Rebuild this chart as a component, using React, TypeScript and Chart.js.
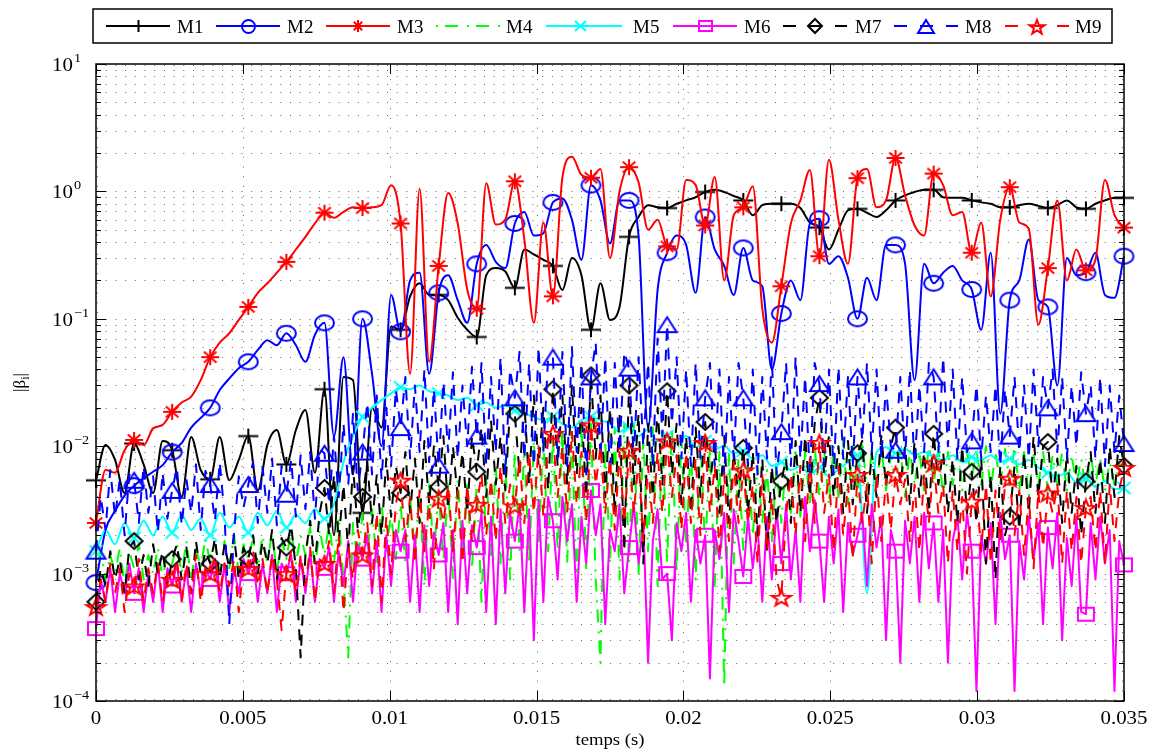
import React, { useEffect, useRef } from "react";
import { Chart, registerables } from "chart.js";

Chart.register(...registerables);

// ---------------- data ----------------
const T_END = 0.035;
const N_COARSE = 109; // smooth series (M1, M2, M3, M5)
const N_FINE = 217; // noisy series (M4, M6, M7, M8, M9)
const N_MARKERS = 28;
const TIME_COARSE: number[] = Array.from({ length: N_COARSE }, (_, i) => (i * T_END) / (N_COARSE - 1));
const TIME_FINE: number[] = Array.from({ length: N_FINE }, (_, i) => (i * T_END) / (N_FINE - 1));

const SERIES_NAMES = ["M1", "M2", "M3", "M4", "M5", "M6", "M7", "M8", "M9"];

const M1 = [
  0.0054, 0.0102, 0.0078, 0.0043, 0.0105, 0.0072, 0.0043, 0.011, 0.0093, 0.004, 0.0118, 0.0065,
  0.0055, 0.0118, 0.0054, 0.0078, 0.012, 0.0045, 0.0102, 0.0134, 0.0072, 0.0134, 0.0192, 0.0062,
  0.028, 0.002, 0.035, 0.033, 0.003, 0.02, 0.014, 0.087, 0.082, 0.15, 0.19, 0.154,
  0.154, 0.14, 0.102, 0.082, 0.072, 0.22, 0.25, 0.235, 0.175, 0.35, 0.32, 0.29,
  0.26, 0.168, 0.3, 0.22, 0.082, 0.19, 0.098, 0.124, 0.44, 0.63, 0.78, 0.75,
  0.74, 0.8, 0.85, 0.9, 0.99, 1.03, 0.99, 0.92, 0.85, 0.65, 0.78, 0.8,
  0.8, 0.8, 0.74, 0.57, 0.52, 0.35, 0.5, 0.71, 0.73, 0.68, 0.63, 0.71,
  0.85, 0.93, 0.99, 1.03, 1.03, 0.9, 0.89, 0.89, 0.85, 0.82, 0.8, 0.75,
  0.75, 0.78, 0.8, 0.77, 0.74, 0.78, 0.85, 0.75, 0.73, 0.8, 0.85, 0.89,
  0.89,
];

const M2 = [
  0.00085, 0.0022, 0.0031, 0.0041, 0.0049, 0.0056, 0.0063, 0.0071, 0.009, 0.0106, 0.014, 0.0167,
  0.02, 0.0276, 0.034, 0.041, 0.046, 0.057, 0.068, 0.062, 0.077, 0.062, 0.046, 0.075,
  0.093, 0.012, 0.05, 0.006, 0.1, 0.037, 0.01, 0.154, 0.079, 0.2, 0.23, 0.037,
  0.16, 0.22, 0.14, 0.093, 0.27, 0.38, 0.28, 0.25, 0.56, 0.69, 0.45, 0.47,
  0.82, 0.88, 0.6, 0.29, 1.12, 0.85, 0.39, 0.85, 0.85, 0.45, 0.014, 0.168,
  0.33, 0.45, 0.38, 0.16, 0.63, 0.35, 0.26, 0.154, 0.36, 0.2, 0.18, 0.04,
  0.11, 0.2, 0.14, 0.56, 0.61, 0.27, 0.31, 0.21, 0.1, 0.21, 0.14, 0.38,
  0.38, 0.27, 0.033, 0.27, 0.19, 0.23, 0.26, 0.2, 0.17, 0.082, 0.33, 0.018,
  0.14, 0.2, 0.42, 0.14, 0.124, 0.03, 0.3, 0.22, 0.23, 0.33, 0.154, 0.146,
  0.31,
];

const M3 = [
  0.0025, 0.0065, 0.0062, 0.0093, 0.0112, 0.0102, 0.0138, 0.0147, 0.0186, 0.022, 0.0245, 0.033,
  0.05, 0.065, 0.077, 0.098, 0.124, 0.16, 0.19, 0.23, 0.28, 0.35, 0.44, 0.56,
  0.68, 0.62, 0.69, 0.75, 0.74, 0.75, 0.78, 1.12, 0.56, 0.037, 1.05, 0.046,
  0.26, 0.97, 0.56, 0.17, 0.12, 1.16, 0.55, 0.6, 1.2, 0.42, 0.093, 0.57,
  0.15, 1.29, 1.87, 1.35, 1.28, 1.5, 0.3, 1.0, 1.55, 1.18, 0.5, 0.6,
  0.37, 0.35, 1.23, 1.12, 0.54, 1.3, 0.2, 0.65, 0.75, 1.1, 0.12, 0.065,
  0.18, 0.56, 0.85, 1.47, 0.31, 1.77, 0.6, 0.27, 1.27, 1.5, 0.75, 0.85,
  1.83, 0.93, 0.54, 0.45, 1.38, 1.12, 0.65, 0.69, 0.33, 0.57, 0.15, 0.6,
  1.08, 0.57, 0.51, 0.09, 0.25, 0.85, 0.2, 0.35, 0.24, 0.29, 1.23, 0.65,
  0.52,
];

const M4 = [
  0.0011, 0.0015, 0.0009, 0.0014, 0.001, 0.0016, 0.0008, 0.0015, 0.0011, 0.0017, 0.0009, 0.0014, 0.001, 0.0016, 0.0009, 0.0015,
  0.0012, 0.0017, 0.001, 0.0018, 0.0009, 0.0016, 0.0011, 0.0019, 0.0012, 0.0017, 0.001, 0.0018, 0.0011, 0.002, 0.001, 0.0017,
  0.0013, 0.0019, 0.0011, 0.002, 0.0012, 0.0021, 0.001, 0.0019, 0.0013, 0.0022, 0.0012, 0.002, 0.0014, 0.0023, 0.0011, 0.0022,
  0.0014, 0.0025, 0.0012, 0.0028, 0.0009, 0.00022, 0.0025, 0.0012, 0.003, 0.0014, 0.0032, 0.0012, 0.0035, 0.0015, 0.003, 0.0013,
  0.0035, 0.0012, 0.004, 0.0015, 0.0045, 0.0008, 0.005, 0.0014, 0.0045, 0.0012, 0.005, 0.0009, 0.0055, 0.0015, 0.005, 0.0011,
  0.005, 0.0006, 0.006, 0.0014, 0.007, 0.0012, 0.008, 0.0009, 0.009, 0.0015, 0.01, 0.0012, 0.011, 0.0018, 0.012, 0.0015,
  0.012, 0.0015, 0.014, 0.0012, 0.013, 0.0008, 0.016, 0.0011, 0.015, 0.0009, 0.0002, 0.011, 0.0012, 0.014, 0.0009, 0.015,
  0.0012, 0.015, 0.001, 0.012, 0.0015, 0.014, 0.0008, 0.013, 0.0012, 0.014, 0.001, 0.012, 0.0015, 0.011, 0.0009, 0.012,
  0.0015, 0.01, 0.0008, 0.009, 0.00013, 0.009, 0.0012, 0.008, 0.0015, 0.008, 0.002, 0.007, 0.0025, 0.0065, 0.0018, 0.007,
  0.0025, 0.008, 0.003, 0.009, 0.0028, 0.009, 0.0035, 0.01, 0.004, 0.0095, 0.0035, 0.01, 0.004, 0.011, 0.0035, 0.01,
  0.004, 0.011, 0.0045, 0.009, 0.005, 0.01, 0.0045, 0.0085, 0.005, 0.01, 0.004, 0.0095, 0.005, 0.009, 0.0045, 0.01,
  0.005, 0.01, 0.004, 0.009, 0.005, 0.0095, 0.0045, 0.009, 0.0055, 0.0095, 0.005, 0.01, 0.0045, 0.009, 0.005, 0.0095,
  0.005, 0.01, 0.0045, 0.009, 0.004, 0.0085, 0.005, 0.009, 0.0045, 0.0085, 0.005, 0.009, 0.0045, 0.0085, 0.005, 0.008,
  0.0045, 0.0085, 0.005, 0.008, 0.0045, 0.0075, 0.005, 0.0072, 0.007,
];

const M5 = [
  0.0015, 0.0022, 0.0017, 0.0025, 0.0019, 0.0026, 0.002, 0.0028, 0.0021, 0.0029, 0.0022, 0.0027,
  0.002, 0.003, 0.0023, 0.0028, 0.0021, 0.003, 0.0024, 0.0031, 0.0023, 0.0029, 0.0025, 0.0032,
  0.0027, 0.0035, 0.0075, 0.012, 0.017, 0.02, 0.023, 0.026, 0.029, 0.028, 0.03, 0.027,
  0.026, 0.025, 0.023, 0.024, 0.021, 0.022, 0.02, 0.021, 0.019, 0.018, 0.017, 0.016,
  0.017, 0.015, 0.014, 0.016, 0.017, 0.016, 0.015, 0.013, 0.014, 0.012, 0.0135, 0.011,
  0.012, 0.0105, 0.012, 0.0098, 0.011, 0.0095, 0.01, 0.0088, 0.0092, 0.008, 0.0085, 0.007,
  0.0075, 0.0065, 0.007, 0.006, 0.0068, 0.0058, 0.0066, 0.0075, 0.0085, 0.0007, 0.009, 0.0098,
  0.0088, 0.0095, 0.0085, 0.009, 0.0082, 0.0078, 0.0085, 0.0075, 0.0082, 0.0078, 0.0085, 0.0075,
  0.008, 0.0072, 0.0078, 0.0068, 0.0062, 0.0058, 0.0062, 0.0052, 0.0056, 0.0048, 0.0053, 0.0046,
  0.0047,
];

const M6 = [
  0.00037, 0.0009, 0.0006, 0.0011, 0.0005, 0.001, 0.0007, 0.0012, 0.0007, 0.0011, 0.0005, 0.001, 0.0006, 0.0012, 0.0005, 0.0011,
  0.0008, 0.0012, 0.0006, 0.0011, 0.0005, 0.0012, 0.0007, 0.0011, 0.0009, 0.0013, 0.0006, 0.0012, 0.0005, 0.0011, 0.0007, 0.0013,
  0.001, 0.0013, 0.0006, 0.0012, 0.0007, 0.0014, 0.0005, 0.0012, 0.001, 0.0014, 0.0006, 0.0013, 0.0007, 0.0015, 0.0006, 0.0013,
  0.0011, 0.0016, 0.0006, 0.0015, 0.0008, 0.0018, 0.0006, 0.0017, 0.0013, 0.002, 0.0007, 0.0018, 0.0005, 0.002, 0.0008, 0.0022,
  0.0015, 0.0022, 0.0006, 0.002, 0.0005, 0.0024, 0.0008, 0.0021, 0.0014, 0.0025, 0.0005, 0.0022, 0.0004, 0.0026, 0.0007, 0.0024,
  0.0016, 0.003, 0.0005, 0.0028, 0.0004, 0.0032, 0.0007, 0.003, 0.0018, 0.0035, 0.0005, 0.0032, 0.0003, 0.0038, 0.0006, 0.004,
  0.0026, 0.0009, 0.004, 0.0018, 0.0035, 0.0006, 0.0028, 0.0012, 0.0045, 0.002, 0.0035, 0.0004, 0.0022, 0.0015, 0.0035, 0.0007,
  0.0016, 0.0035, 0.0012, 0.0025, 0.0002, 0.0018, 0.0032, 0.0009, 0.001, 0.0003, 0.0025, 0.0015, 0.003, 0.0006, 0.0022, 0.0012,
  0.002, 0.00015, 0.0022, 0.0013, 0.003, 0.0005, 0.0032, 0.0018, 0.00095, 0.0028, 0.0011, 0.0024, 0.0006, 0.0028, 0.0009, 0.0032,
  0.0012, 0.0035, 0.0009, 0.0022, 0.0006, 0.004, 0.0015, 0.0038, 0.0018, 0.0006, 0.0028, 0.0012, 0.0032, 0.0005, 0.0025, 0.0014,
  0.002, 0.003, 0.0008, 0.0035, 0.0016, 0.0028, 0.0003, 0.0022, 0.0015, 0.0002, 0.0026, 0.0012, 0.0028, 0.0006, 0.003, 0.0011,
  0.0025, 0.0006, 0.0022, 0.0002, 0.0018, 0.0028, 0.0009, 0.003, 0.0015, 0.00012, 0.002, 0.0012, 0.0025, 0.0004, 0.003, 0.0013,
  0.002, 0.00012, 0.0018, 0.0009, 0.0028, 0.0013, 0.0025, 0.0004, 0.0023, 0.0011, 0.003, 0.0003, 0.0019, 0.0008, 0.0028, 0.0005,
  0.00048, 0.0025, 0.0009, 0.0028, 0.0012, 0.0022, 0.00012, 0.0018, 0.00117,
];

const M7 = [
  0.0006, 0.0011, 0.0008, 0.0015, 0.0009, 0.0013, 0.0007, 0.0016, 0.0018, 0.0009, 0.0014, 0.0008, 0.0017, 0.001, 0.0015, 0.0008,
  0.0013, 0.0017, 0.0009, 0.0016, 0.0007, 0.0018, 0.001, 0.0015, 0.0012, 0.0019, 0.0009, 0.0017, 0.0011, 0.002, 0.0009, 0.0016,
  0.0013, 0.002, 0.001, 0.0018, 0.0012, 0.0022, 0.0009, 0.0019, 0.0016, 0.0024, 0.0011, 0.00022, 0.0014, 0.0026, 0.0012, 0.003,
  0.0047, 0.002, 0.006, 0.0018, 0.005, 0.0015, 0.007, 0.0022, 0.004, 0.0075, 0.0025, 0.006, 0.002, 0.008, 0.0028, 0.007,
  0.0043, 0.009, 0.003, 0.008, 0.0025, 0.011, 0.0035, 0.01, 0.0048, 0.012, 0.0032, 0.01, 0.004, 0.009, 0.003, 0.012,
  0.0063, 0.014, 0.004, 0.016, 0.005, 0.012, 0.0045, 0.02, 0.018, 0.006, 0.022, 0.005, 0.025, 0.007, 0.02, 0.0045,
  0.028, 0.007, 0.025, 0.005, 0.03, 0.006, 0.02, 0.004, 0.036, 0.008, 0.025, 0.004, 0.02, 0.003, 0.018, 0.0015,
  0.03, 0.005, 0.018, 0.0012, 0.015, 0.004, 0.02, 0.005, 0.027, 0.006, 0.015, 0.0035, 0.012, 0.003, 0.014, 0.004,
  0.0155, 0.005, 0.011, 0.003, 0.012, 0.0025, 0.009, 0.004, 0.0097, 0.003, 0.009, 0.002, 0.008, 0.0015, 0.007, 0.0025,
  0.0053, 0.008, 0.0025, 0.011, 0.003, 0.012, 0.004, 0.015, 0.024, 0.006, 0.012, 0.004, 0.01, 0.003, 0.011, 0.0035,
  0.0088, 0.011, 0.003, 0.009, 0.004, 0.012, 0.005, 0.01, 0.014, 0.005, 0.01, 0.0035, 0.011, 0.004, 0.009, 0.003,
  0.0125, 0.005, 0.009, 0.003, 0.008, 0.0025, 0.01, 0.003, 0.0063, 0.0025, 0.008, 0.0012, 0.006, 0.0009, 0.007, 0.002,
  0.0028, 0.007, 0.0022, 0.009, 0.003, 0.012, 0.004, 0.01, 0.0108, 0.004, 0.008, 0.0025, 0.009, 0.003, 0.007, 0.002,
  0.0053, 0.009, 0.003, 0.008, 0.0025, 0.01, 0.004, 0.012, 0.007,
];

const M8 = [
  0.0015, 0.004, 0.0022, 0.0065, 0.0028, 0.0055, 0.002, 0.006, 0.0054, 0.0025, 0.007, 0.003, 0.0058, 0.0021, 0.0062, 0.0027,
  0.0045, 0.0068, 0.0024, 0.0055, 0.003, 0.0072, 0.0022, 0.0064, 0.005, 0.0026, 0.0075, 0.0029, 0.0004, 0.0021, 0.0058, 0.0033,
  0.005, 0.0075, 0.0025, 0.0068, 0.003, 0.008, 0.0024, 0.007, 0.0042, 0.0078, 0.0028, 0.0085, 0.0032, 0.009, 0.0027, 0.0095,
  0.0088, 0.0035, 0.012, 0.004, 0.015, 0.005, 0.018, 0.0045, 0.009, 0.022, 0.006, 0.025, 0.0055, 0.02, 0.007, 0.028,
  0.014, 0.035, 0.008, 0.03, 0.009, 0.04, 0.0075, 0.028, 0.0071, 0.032, 0.009, 0.038, 0.008, 0.03, 0.01, 0.042,
  0.012, 0.045, 0.007, 0.035, 0.009, 0.05, 0.006, 0.04, 0.024, 0.055, 0.008, 0.045, 0.007, 0.06, 0.009, 0.05,
  0.05, 0.008, 0.055, 0.007, 0.06, 0.009, 0.045, 0.006, 0.035, 0.065, 0.008, 0.05, 0.006, 0.045, 0.009, 0.055,
  0.041, 0.008, 0.05, 0.01, 0.045, 0.007, 0.07, 0.012, 0.09, 0.015, 0.05, 0.008, 0.04, 0.007, 0.045, 0.008,
  0.024, 0.045, 0.007, 0.04, 0.006, 0.035, 0.008, 0.045, 0.024, 0.007, 0.04, 0.006, 0.035, 0.008, 0.05, 0.006,
  0.013, 0.045, 0.007, 0.05, 0.008, 0.035, 0.006, 0.045, 0.031, 0.007, 0.04, 0.006, 0.042, 0.008, 0.035, 0.007,
  0.035, 0.011, 0.045, 0.009, 0.04, 0.008, 0.03, 0.01, 0.0093, 0.035, 0.008, 0.04, 0.007, 0.03, 0.009, 0.045,
  0.035, 0.009, 0.05, 0.01, 0.04, 0.008, 0.035, 0.009, 0.011, 0.03, 0.008, 0.025, 0.009, 0.03, 0.007, 0.028,
  0.012, 0.035, 0.009, 0.03, 0.008, 0.04, 0.01, 0.035, 0.02, 0.04, 0.009, 0.035, 0.008, 0.03, 0.01, 0.038,
  0.018, 0.03, 0.008, 0.035, 0.007, 0.03, 0.009, 0.025, 0.0105,
];

const M9 = [
  0.00055, 0.0009, 0.0006, 0.0012, 0.0007, 0.0011, 0.0005, 0.001, 0.0008, 0.0013, 0.0006, 0.0011, 0.0007, 0.0012, 0.0006, 0.001,
  0.0009, 0.0013, 0.0006, 0.0012, 0.0007, 0.0014, 0.0006, 0.0011, 0.001, 0.0014, 0.0007, 0.0012, 0.0008, 0.0013, 0.0005, 0.0012,
  0.0011, 0.0015, 0.0008, 0.0013, 0.0007, 0.0014, 0.0009, 0.00036, 0.001, 0.0015, 0.0007, 0.0014, 0.0008, 0.0016, 0.0006, 0.0013,
  0.0012, 0.0018, 0.0007, 0.002, 0.0005, 0.0016, 0.0009, 0.0022, 0.0014, 0.0025, 0.0008, 0.003, 0.0006, 0.0028, 0.001, 0.0035,
  0.0054, 0.0018, 0.004, 0.0012, 0.0045, 0.0015, 0.0035, 0.0011, 0.0039, 0.0025, 0.005, 0.0015, 0.0045, 0.0012, 0.005, 0.0018,
  0.0035, 0.006, 0.002, 0.0055, 0.0018, 0.007, 0.0025, 0.005, 0.0034, 0.008, 0.0025, 0.009, 0.003, 0.01, 0.0028, 0.012,
  0.0126, 0.004, 0.01, 0.003, 0.013, 0.0035, 0.009, 0.0025, 0.0147, 0.005, 0.01, 0.003, 0.008, 0.0022, 0.009, 0.0025,
  0.0093, 0.003, 0.008, 0.0018, 0.007, 0.0025, 0.009, 0.003, 0.011, 0.004, 0.0085, 0.0022, 0.009, 0.0025, 0.008, 0.002,
  0.0107, 0.003, 0.007, 0.0015, 0.006, 0.0018, 0.0075, 0.0025, 0.0065, 0.0025, 0.005, 0.0012, 0.006, 0.0015, 0.004, 0.0009,
  0.00065, 0.003, 0.006, 0.002, 0.007, 0.0018, 0.008, 0.0025, 0.0107, 0.003, 0.006, 0.0015, 0.007, 0.002, 0.005, 0.0013,
  0.006, 0.0025, 0.005, 0.0012, 0.006, 0.0018, 0.0055, 0.0022, 0.006, 0.0035, 0.0055, 0.0018, 0.005, 0.0015, 0.006, 0.0025,
  0.0074, 0.003, 0.005, 0.0012, 0.0045, 0.0015, 0.004, 0.001, 0.0037, 0.0045, 0.0015, 0.005, 0.0012, 0.0045, 0.0018, 0.005,
  0.0056, 0.002, 0.0045, 0.0014, 0.004, 0.0011, 0.0045, 0.0016, 0.0043, 0.003, 0.005, 0.0012, 0.0045, 0.0015, 0.004, 0.0012,
  0.0033, 0.004, 0.0015, 0.0045, 0.0012, 0.005, 0.0018, 0.0045, 0.0068,
];

const SERIES_VALUES = [M1, M2, M3, M4, M5, M6, M7, M8, M9];

const X_TICKS = [0, 0.005, 0.01, 0.015, 0.02, 0.025, 0.03, 0.035];
const X_TICK_LABELS = ["0", "0.005", "0.01", "0.015", "0.02", "0.025", "0.03", "0.035"];
const Y_DECADES = [-4, -3, -2, -1, 0, 1];
const Y_TICK_EXPONENTS = ["\u22124", "\u22123", "\u22122", "\u22121", "0", "1"];
const X_TITLE = "temps (s)";

// ---------------- styles ----------------
type MarkerKind = "plus" | "circle" | "asterisk" | "cross" | "square" | "diamond" | "triangle" | "pentagram" | null;

const STYLES: { color: string; dash: number[]; legendDash: number[]; marker: MarkerKind; smooth: boolean }[] = [
  { color: "#000000", dash: [], legendDash: [], marker: "plus", smooth: true },
  { color: "#0000ff", dash: [], legendDash: [], marker: "circle", smooth: true },
  { color: "#ff0000", dash: [], legendDash: [], marker: "asterisk", smooth: true },
  { color: "#00ff00", dash: [2, 7, 13, 9], legendDash: [2, 7, 13, 9], marker: null, smooth: false },
  { color: "#00ffff", dash: [], legendDash: [], marker: "cross", smooth: true },
  { color: "#ff00ff", dash: [], legendDash: [], marker: "square", smooth: false },
  { color: "#000000", dash: [11, 9], legendDash: [13, 13], marker: "diamond", smooth: false },
  { color: "#0000ff", dash: [11, 9], legendDash: [13, 13], marker: "triangle", smooth: false },
  { color: "#ff0000", dash: [11, 9], legendDash: [13, 13], marker: "pentagram", smooth: false },
];

const PLOT_MARKER_SIZE: Record<string, [number, number]> = {
  plus: [20, 15], circle: [19, 15], asterisk: [18, 16], cross: [13, 12],
  square: [16, 13], diamond: [17, 16], triangle: [19, 15], pentagram: [20, 17],
};
const LEGEND_MARKER_SIZE: Record<string, [number, number]> = {
  plus: [11, 12], circle: [13, 13], asterisk: [12, 12], cross: [11, 10],
  square: [13, 10], diamond: [14, 14], triangle: [16, 13], pentagram: [16, 15],
};

// legend layout: [lineStart, lineEnd, markerX, textX]
const LEGEND_LAYOUT = [
  [106, 170, 138, 177], [216, 280, 248, 287], [326, 390, 358, 397], [436, 500, 468, 506],
  [546, 622, 580, 633], [673, 737, 705, 744], [783, 847, 815, 855], [894, 958, 926, 965],
  [1005, 1069, 1037, 1075],
];

const SERIF = '"Liberation Serif", "Times New Roman", serif';
const STRETCH = 1.1;

function makeMarker(kind: MarkerKind, color: string, w: number, h: number, lw: number): HTMLCanvasElement {
  const pad = Math.ceil(lw) + 1;
  const c = document.createElement("canvas");
  c.width = Math.ceil(w + 2 * pad);
  c.height = Math.ceil(h + 2 * pad);
  const g = c.getContext("2d")!;
  g.strokeStyle = color;
  g.lineWidth = lw;
  g.lineJoin = "miter";
  const cx = c.width / 2, cy = c.height / 2, rx = w / 2, ry = h / 2;
  g.beginPath();
  switch (kind) {
    case "plus":
      g.moveTo(cx - rx, cy); g.lineTo(cx + rx, cy);
      g.moveTo(cx, cy - ry); g.lineTo(cx, cy + ry);
      break;
    case "circle":
      g.ellipse(cx, cy, rx, ry, 0, 0, Math.PI * 2);
      break;
    case "asterisk":
      g.moveTo(cx - rx, cy); g.lineTo(cx + rx, cy);
      g.moveTo(cx, cy - ry); g.lineTo(cx, cy + ry);
      g.moveTo(cx - rx * 0.7, cy - ry * 0.7); g.lineTo(cx + rx * 0.7, cy + ry * 0.7);
      g.moveTo(cx + rx * 0.7, cy - ry * 0.7); g.lineTo(cx - rx * 0.7, cy + ry * 0.7);
      break;
    case "cross":
      g.moveTo(cx - rx, cy - ry); g.lineTo(cx + rx, cy + ry);
      g.moveTo(cx + rx, cy - ry); g.lineTo(cx - rx, cy + ry);
      break;
    case "square":
      g.rect(cx - rx, cy - ry, w, h);
      break;
    case "diamond":
      g.moveTo(cx, cy - ry); g.lineTo(cx + rx, cy); g.lineTo(cx, cy + ry); g.lineTo(cx - rx, cy); g.closePath();
      break;
    case "triangle":
      g.moveTo(cx, cy - ry); g.lineTo(cx + rx, cy + ry); g.lineTo(cx - rx, cy + ry); g.closePath();
      break;
    case "pentagram": {
      for (let k = 0; k < 10; k++) {
        const r = k % 2 === 0 ? 1 : 0.4;
        const a = -Math.PI / 2 + (k * Math.PI) / 5;
        const px = cx + Math.cos(a) * rx * r;
        const py = cy + 1 + Math.sin(a) * ry * r;
        if (k === 0) g.moveTo(px, py); else g.lineTo(px, py);
      }
      g.closePath();
      break;
    }
  }
  g.stroke();
  return c;
}

function drawText(ctx: CanvasRenderingContext2D, text: string, x: number, y: number, align: "left" | "center" | "right", font: string, sx = STRETCH): number {
  ctx.font = font;
  const w = ctx.measureText(text).width * sx;
  const left = align === "left" ? x : align === "center" ? x - w / 2 : x - w;
  ctx.save();
  ctx.translate(left, y);
  ctx.scale(sx, 1);
  ctx.textAlign = "left";
  ctx.textBaseline = "alphabetic";
  ctx.fillText(text, 0, 0);
  ctx.restore();
  return w;
}

export default function App() {
  const ref = useRef<HTMLCanvasElement>(null);

  useEffect(() => {
    const canvas = ref.current;
    if (!canvas) return;

    const plotMarkers = STYLES.map((s) => {
      if (!s.marker) return null;
      const [w, h] = PLOT_MARKER_SIZE[s.marker];
      return makeMarker(s.marker, s.color, w, h, 2);
    });
    const legendMarkers = STYLES.map((s) => {
      if (!s.marker) return null;
      const [w, h] = LEGEND_MARKER_SIZE[s.marker];
      return makeMarker(s.marker, s.color, w, h, 2);
    });

    const datasets = SERIES_VALUES.map((vals, idx) => {
      const s = STYLES[idx];
      const hasMarker = !!s.marker;
      const time = vals.length === N_FINE ? TIME_FINE : TIME_COARSE;
      const step = (vals.length - 1) / (N_MARKERS - 1);
      return {
        label: SERIES_NAMES[idx],
        data: vals.map((v, i) => ({ x: time[i], y: v })),
        borderColor: s.color,
        backgroundColor: s.color,
        borderWidth: 2,
        borderDash: s.dash,
        pointStyle: (plotMarkers[idx] as any) || false,
        pointRadius: (c: any) => (hasMarker && c.dataIndex % step === 0 ? 8 : 0),
        pointHoverRadius: 0,
        cubicInterpolationMode: s.smooth ? ("monotone" as const) : ("default" as const),
        tension: 0,
        fill: false,
        clip: false as any,
        order: 8 - idx,
      };
    });

    const framePlugin = {
      id: "framePlugin",
      beforeDatasetsDraw(chart: any) {
        const { ctx, chartArea: a, scales } = chart;
        const ys = scales.y, xs = scales.x;
        ctx.save();
        ctx.strokeStyle = "rgba(0,0,0,0.6)";
        ctx.lineWidth = 1;
        ctx.setLineDash([1, 8.7]);
        for (let k = -4; k <= 0; k++) {
          for (let m = 1; m <= 9; m++) {
            const v = m * Math.pow(10, k);
            let py = Math.round(ys.getPixelForValue(v)) + 0.5;
            if (k === -4 && m === 1) py = a.bottom - 1.5;
            ctx.beginPath();
            ctx.moveTo(a.left, py);
            ctx.lineTo(a.right, py);
            ctx.stroke();
          }
        }
        {
          const py = a.top + 1.5;
          ctx.beginPath(); ctx.moveTo(a.left, py); ctx.lineTo(a.right, py); ctx.stroke();
        }
        X_TICKS.forEach((t, i) => {
          let px = Math.round(xs.getPixelForValue(t)) + 0.5;
          if (i === 0) px = a.left + 1.5;
          if (i === X_TICKS.length - 1) px = a.right - 1.5;
          ctx.beginPath();
          ctx.moveTo(px, a.bottom);
          ctx.lineTo(px, a.top);
          ctx.stroke();
        });
        ctx.restore();
      },
      afterDatasetsDraw(chart: any) {
        const { ctx, chartArea: a, scales } = chart;
        const ys = scales.y, xs = scales.x;
        ctx.save();
        ctx.setLineDash([]);
        ctx.strokeStyle = "#000";
        ctx.lineWidth = 1.5;
        ctx.strokeRect(a.left, a.top, a.right - a.left, a.bottom - a.top);

        // y ticks
        ctx.lineWidth = 1;
        for (let k = -4; k <= 1; k++) {
          for (let m = 1; m <= 9; m++) {
            const v = m * Math.pow(10, k);
            if (v > 10.0001) break;
            const py = Math.round(ys.getPixelForValue(v)) + 0.5;
            const len = m === 1 ? 10 : 5;
            ctx.beginPath();
            ctx.moveTo(a.left, py); ctx.lineTo(a.left + len, py);
            ctx.moveTo(a.right, py); ctx.lineTo(a.right - len, py);
            ctx.stroke();
          }
        }
        // x ticks
        X_TICKS.forEach((t) => {
          const px = Math.round(xs.getPixelForValue(t)) + 0.5;
          ctx.beginPath();
          ctx.moveTo(px, a.bottom); ctx.lineTo(px, a.bottom - 10);
          ctx.moveTo(px, a.top); ctx.lineTo(px, a.top + 10);
          ctx.stroke();
        });

        // tick labels
        ctx.fillStyle = "#000";
        X_TICKS.forEach((t, i) => {
          const px = xs.getPixelForValue(t);
          drawText(ctx, X_TICK_LABELS[i], px, a.bottom + 23, "center", `19px ${SERIF}`);
        });
        Y_DECADES.forEach((k, i) => {
          const py = ys.getPixelForValue(Math.pow(10, k));
          drawText(ctx, "10", 73, py + 7, "right", `19px ${SERIF}`);
          drawText(ctx, Y_TICK_EXPONENTS[i], 74, py - 2, "left", `13px ${SERIF}`);
        });

        // axis titles
        drawText(ctx, X_TITLE, (a.left + a.right) / 2, 745, "center", `17px ${SERIF}`);
        ctx.save();
        ctx.translate(25, (a.top + a.bottom) / 2);
        ctx.rotate(-Math.PI / 2);
        ctx.font = `17px ${SERIF}`;
        const w1 = ctx.measureText("|\u03b2").width;
        ctx.font = `12px ${SERIF}`;
        const w2 = ctx.measureText("i").width;
        ctx.font = `17px ${SERIF}`;
        const w3 = ctx.measureText("|").width;
        const total = w1 + w2 + w3;
        const x0 = -total / 2;
        ctx.textAlign = "left";
        ctx.fillText("|\u03b2", x0, 0);
        ctx.font = `12px ${SERIF}`;
        ctx.fillText("i", x0 + w1, 4);
        ctx.font = `17px ${SERIF}`;
        ctx.fillText("|", x0 + w1 + w2, 0);
        ctx.restore();

        // legend
        const L = { x: 93, y: 9, w: 1019, h: 34 };
        ctx.fillStyle = "#fff";
        ctx.fillRect(L.x, L.y, L.w, L.h);
        ctx.strokeStyle = "#000";
        ctx.lineWidth = 1.5;
        ctx.strokeRect(L.x, L.y, L.w, L.h);
        const cy = 26;
        STYLES.forEach((s, i) => {
          const [x0l, x1l, mx, tx] = LEGEND_LAYOUT[i];
          ctx.save();
          ctx.strokeStyle = s.color;
          ctx.lineWidth = 2;
          ctx.setLineDash(s.legendDash);
          ctx.beginPath();
          ctx.moveTo(x0l, cy);
          ctx.lineTo(x1l, cy);
          ctx.stroke();
          ctx.restore();
          const img = legendMarkers[i];
          if (img) ctx.drawImage(img, Math.round(mx - img.width / 2), Math.round(cy - img.height / 2));
          ctx.fillStyle = "#000";
          drawText(ctx, SERIES_NAMES[i], tx, 33, "left", `19px ${SERIF}`, 1.0);
        });
        ctx.restore();
      },
    };

    const chart = new Chart(canvas, {
      type: "line",
      data: { datasets: datasets as any },
      options: {
        responsive: false,
        animation: false,
        devicePixelRatio: 1,
        events: [],
        layout: { padding: { left: 96, top: 64, right: 32, bottom: 48 } },
        scales: {
          x: { type: "linear", min: 0, max: T_END, display: false },
          y: { type: "logarithmic", min: 1e-4, max: 10, display: false },
        },
        plugins: { legend: { display: false }, tooltip: { enabled: false } },
        elements: { line: { borderJoinStyle: "round" } },
      },
      plugins: [framePlugin],
    });

    return () => chart.destroy();
  }, []);

  return (
    <div style={{ position: "fixed", left: 0, top: 0, width: 1156, height: 749, background: "#fff" }}>
      <canvas ref={ref} width={1156} height={749} style={{ display: "block", width: 1156, height: 749 }} />
    </div>
  );
}
